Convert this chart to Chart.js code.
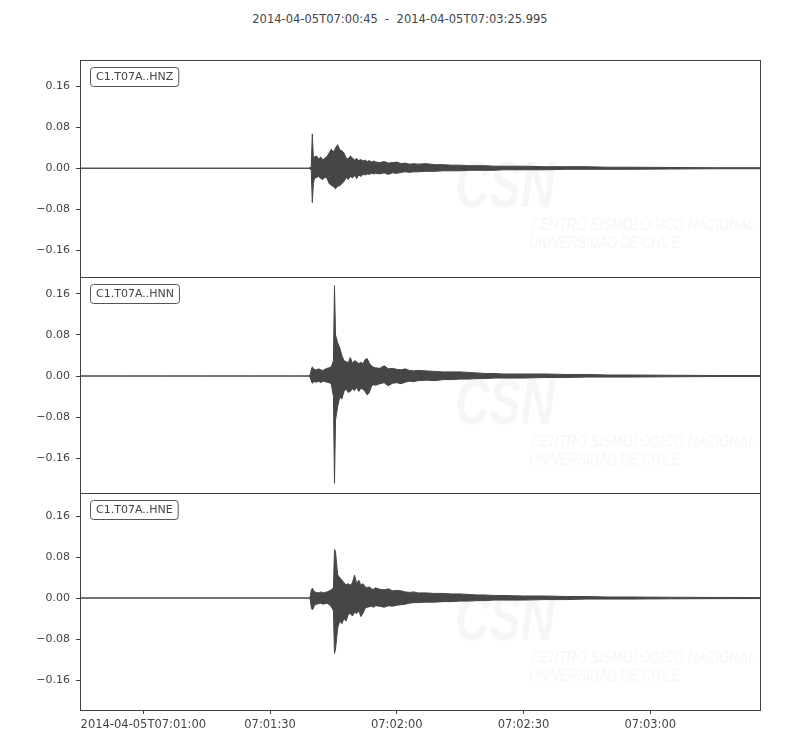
<!DOCTYPE html>
<html>
<head>
<meta charset="utf-8">
<script src="https://cdn.jsdelivr.net/npm/chart.js@4.4.0/dist/chart.umd.min.js"></script>
<style>
  html, body { margin:0; padding:0; background:#fff; }
  body { width:800px; height:750px; position:relative; overflow:hidden; font-family:"DejaVu Sans", sans-serif; }
  .title { position:absolute; left:0; width:800px; top:12px; text-align:center; font-size:11.5px; color:#444; white-space:pre; }
  .panel { position:absolute; left:0; width:800px; }
</style>
</head>
<body>
<div class="title" id="title"></div>
<div class="panel" style="top:44px;height:249px"><canvas id="c0"></canvas></div>
<div class="panel" style="top:261px;height:248px"><canvas id="c1"></canvas></div>
<div class="panel" style="top:477px;height:273px"><canvas id="c2"></canvas></div>
<script>
/* ============================================================
   Sismograma C1.T07A — 3 composantes (HNZ / HNN / HNE)
   enveloppe min/max, secondes depuis le début
   ============================================================ */

const START_LABEL = '2014-04-05T07:00:45';
const END_LABEL   = '2014-04-05T07:03:25.995';
const DURATION    = 160.995;

const channels = ['C1.T07A..HNZ', 'C1.T07A..HNN', 'C1.T07A..HNE'];

// ── Temps (s depuis 07:00:45) ────────────────────────────────
const times = [0, 10, 20, 30, 40, 50, 54,
  54.5, 54.75, 55, 55.25,
  55.5, 56, 56.5, 57, 57.5, 58, 58.5, 59, 59.5, 60,
  60.25,
  60.5, 61, 61.5, 62, 62.5, 63, 63.5, 64, 64.5, 65, 65.5, 66, 66.5, 67, 67.5, 68, 68.5, 69, 69.5, 70,
  71, 72, 73, 74, 75, 76, 77, 78, 79, 80,
  82, 84, 86, 88, 90, 92, 94, 96, 98, 100,
  105, 110, 115, 120, 125, 130,
  140, 150, 160.995];

// ── HNZ ──────────────────────────────────────────────────────
const hnzHi = [0, 0, 0, 0, 0, 0, 0,
  0.001, 0.004, 0.067, 0.02,
  0.022, 0.024, 0.018, 0.022, 0.016, 0.02, 0.023, 0.03, 0.037, 0.032,
  0.035,
  0.04, 0.046, 0.036, 0.034, 0.03, 0.02, 0.018, 0.024, 0.02, 0.016, 0.019, 0.015, 0.017, 0.014, 0.016, 0.013, 0.015, 0.012, 0.014, 0.012,
  0.011, 0.013, 0.01, 0.011, 0.012, 0.009, 0.01, 0.008, 0.009, 0.008,
  0.009, 0.007, 0.007, 0.006, 0.006, 0.005, 0.005, 0.005, 0.004, 0.004,
  0.004, 0.003, 0.003, 0.003, 0.002, 0.002,
  0.0015, 0.001, 0.001];
const hnzLo = [0, 0, 0, 0, 0, 0, 0,
  -0.001, -0.004, -0.067, -0.03,
  -0.02, -0.018, -0.016, -0.02, -0.022, -0.017, -0.02, -0.03, -0.033, -0.036,
  -0.038,
  -0.04, -0.035, -0.034, -0.03, -0.026, -0.018, -0.022, -0.016, -0.019, -0.014, -0.02, -0.013, -0.016, -0.012, -0.013, -0.011, -0.012, -0.01, -0.011, -0.01,
  -0.011, -0.009, -0.012, -0.009, -0.01, -0.008, -0.007, -0.008, -0.007, -0.007,
  -0.006, -0.006, -0.005, -0.005, -0.005, -0.004, -0.004, -0.004, -0.004, -0.003,
  -0.003, -0.003, -0.002, -0.002, -0.002, -0.002,
  -0.0015, -0.001, -0.001];

// ── HNN ──────────────────────────────────────────────────────
const hnnHi = [0, 0, 0, 0, 0, 0, 0,
  0.002, 0.012, 0.018, 0.014,
  0.013, 0.012, 0.014, 0.012, 0.011, 0.013, 0.015, 0.016, 0.018, 0.03,
  0.176,
  0.08, 0.065, 0.055, 0.04, 0.03, 0.028, 0.026, 0.036, 0.025, 0.03, 0.028, 0.024, 0.027, 0.024, 0.032, 0.034, 0.025, 0.02, 0.017, 0.016,
  0.015, 0.02, 0.014, 0.015, 0.013, 0.012, 0.014, 0.011, 0.01, 0.011,
  0.01, 0.009, 0.008, 0.008, 0.008, 0.007, 0.006, 0.005, 0.005, 0.004,
  0.004, 0.004, 0.003, 0.003, 0.002, 0.002,
  0.0015, 0.001, 0.001];
const hnnLo = [0, 0, 0, 0, 0, 0, 0,
  -0.002, -0.01, -0.014, -0.012,
  -0.011, -0.012, -0.01, -0.013, -0.01, -0.011, -0.012, -0.013, -0.016, -0.04,
  -0.209,
  -0.086, -0.06, -0.04, -0.045, -0.03, -0.025, -0.032, -0.03, -0.025, -0.028, -0.022, -0.03, -0.024, -0.026, -0.03, -0.037, -0.032, -0.02, -0.017, -0.018,
  -0.015, -0.013, -0.019, -0.014, -0.013, -0.015, -0.012, -0.01, -0.011, -0.009,
  -0.008, -0.009, -0.007, -0.007, -0.006, -0.006, -0.005, -0.005, -0.004, -0.004,
  -0.004, -0.003, -0.003, -0.002, -0.002, -0.002,
  -0.0015, -0.001, -0.001];

// ── HNE ──────────────────────────────────────────────────────
const hneHi = [0, 0, 0, 0, 0, 0, 0,
  0.002, 0.015, 0.019, 0.016,
  0.012, 0.011, 0.01, 0.012, 0.01, 0.011, 0.012, 0.014, 0.016, 0.02,
  0.095,
  0.09, 0.045, 0.04, 0.035, 0.03, 0.026, 0.028, 0.025, 0.03, 0.045, 0.028, 0.035, 0.025, 0.028, 0.022, 0.02, 0.022, 0.018, 0.017, 0.02,
  0.017, 0.016, 0.018, 0.014, 0.015, 0.014, 0.012, 0.011, 0.012, 0.01,
  0.01, 0.009, 0.009, 0.008, 0.008, 0.007, 0.006, 0.006, 0.005, 0.005,
  0.004, 0.004, 0.003, 0.003, 0.002, 0.002,
  0.0015, 0.0012, 0.001];
const hneLo = [0, 0, 0, 0, 0, 0, 0,
  -0.002, -0.018, -0.023, -0.02,
  -0.014, -0.012, -0.011, -0.01, -0.012, -0.011, -0.01, -0.013, -0.017, -0.025,
  -0.108,
  -0.1, -0.058, -0.045, -0.05, -0.04, -0.045, -0.032, -0.03, -0.035, -0.028, -0.03, -0.025, -0.036, -0.03, -0.02, -0.018, -0.017, -0.016, -0.018, -0.015,
  -0.016, -0.018, -0.015, -0.016, -0.014, -0.013, -0.012, -0.01, -0.009, -0.009,
  -0.008, -0.008, -0.007, -0.007, -0.006, -0.006, -0.005, -0.005, -0.004, -0.004,
  -0.004, -0.003, -0.003, -0.002, -0.002, -0.002,
  -0.0015, -0.0012, -0.001];

// ── Axes ─────────────────────────────────────────────────────
const yTicks       = [-0.16, -0.08, 0, 0.08, 0.16];
const yLimits      = [[-0.212, 0.211], [-0.228, 0.193], [-0.2185, 0.205]];
const xTickSeconds = [15, 45, 75, 105, 135];
const xTickLabels  = ['2014-04-05T07:01:00', '07:01:30', '07:02:00', '07:02:30', '07:03:00'];

const watermark = ['CSN', 'CENTRO SISMOLÓGICO NACIONAL', 'UNIVERSIDAD DE CHILE'];

const INK   = '#464646';
const FRAME = '#404040';
const TEXT  = '#444444';
const FONT  = '"DejaVu Sans", sans-serif';
const PAD   = 16;

document.getElementById('title').textContent = `${START_LABEL}  -  ${END_LABEL}`;

// texte étiré pour tenir dans une largeur donnée (filigrane)
function fitText(ctx, txt, x, y, w) {
  const m = ctx.measureText(txt).width;
  ctx.save();
  ctx.translate(x, y);
  ctx.scale(w / m, 1);
  ctx.fillText(txt, 0, 0);
  ctx.restore();
}

// ── Plugin : filigrane, cadre et étiquette de voie ──────────
const panelDeco = {
  id: 'panelDeco',
  beforeDatasetsDraw(chart) {
    const { ctx, chartArea: a } = chart;
    ctx.save();
    ctx.fillStyle = '#f6f6f6';
    ctx.textBaseline = 'alphabetic';
    ctx.font = `italic bold 64px "Liberation Sans", sans-serif`;
    fitText(ctx, watermark[0], a.left + 375, a.top + 147, 100);
    ctx.font = `italic 17px "Liberation Sans", sans-serif`;
    fitText(ctx, watermark[1], a.left + 451, a.top + 170, 224);
    fitText(ctx, watermark[2], a.left + 449, a.top + 188, 151);
    ctx.restore();
  },
  afterDatasetsDraw(chart, args, opts) {
    const { ctx, chartArea: a } = chart;
    ctx.save();
    ctx.strokeStyle = FRAME;
    ctx.lineWidth = 1;
    ctx.strokeRect(Math.round(a.left) + 0.5, Math.round(a.top) + 0.5,
                   Math.round(a.right - a.left), Math.round(a.bottom - a.top));

    // étiquette "C1.T07A..HNx"
    ctx.font = `11px ${FONT}`;
    const w = ctx.measureText(opts.label).width + 11;
    const x = a.left + 10.5, y = a.top + 7.5, h = 19;
    ctx.beginPath();
    ctx.roundRect(x, y, w, h, 3);
    ctx.fillStyle = '#fff';
    ctx.fill();
    ctx.strokeStyle = '#555';
    ctx.stroke();
    ctx.fillStyle = TEXT;
    ctx.textBaseline = 'middle';
    ctx.fillText(opts.label, x + 5.5, y + h / 2 + 0.5);
    ctx.restore();
  }
};

const fmtY = v => (v < -1e-9 ? '\u2212' : '') + Math.abs(v).toFixed(2);

function makePanel(idx, hi, lo, showX) {
  const pts = arr => times.map((t, i) => ({ x: t, y: arr[i] }));
  const line = { borderColor: INK, backgroundColor: INK, borderWidth: 1,
                 pointRadius: 0, tension: 0 };
  return new Chart(document.getElementById('c' + idx), {
    type: 'line',
    data: {
      datasets: [
        { ...line, data: pts(hi), fill: '+1' },
        { ...line, data: pts(lo), fill: false },
      ]
    },
    options: {
      responsive: true, maintainAspectRatio: false, animation: false, devicePixelRatio: 1,
      layout: { padding: { left: 0, right: 40, top: PAD, bottom: showX ? 0 : PAD } },
      plugins: {
        legend: { display: false }, tooltip: { enabled: false },
        panelDeco: { label: channels[idx] }
      },
      scales: {
        x: {
          type: 'linear', min: 0, max: DURATION, display: showX,
          afterBuildTicks: s => { s.ticks = xTickSeconds.map(v => ({ value: v })); },
          afterFit: s => { s.height = showX ? 40 : 0; },
          border: { display: false },
          grid: { drawOnChartArea: false, drawTicks: true, tickLength: 4, color: FRAME },
          ticks: { autoSkip: false, maxRotation: 0, padding: 4, color: TEXT,
                   font: { family: FONT, size: 11.5 },
                   callback: v => xTickLabels[xTickSeconds.indexOf(v)] }
        },
        y: {
          min: yLimits[idx][0], max: yLimits[idx][1],
          afterBuildTicks: s => { s.ticks = yTicks.map(v => ({ value: v })); },
          afterFit: s => { s.width = 80; },
          border: { display: false },
          grid: { drawOnChartArea: false, drawTicks: true, tickLength: 4, color: FRAME },
          ticks: { padding: 6, color: TEXT, font: { family: FONT, size: 11 }, callback: fmtY }
        }
      }
    },
    plugins: [panelDeco]
  });
}

makePanel(0, hnzHi, hnzLo, false);
makePanel(1, hnnHi, hnnLo, false);
makePanel(2, hneHi, hneLo, true);
</script>
</body>
</html>
